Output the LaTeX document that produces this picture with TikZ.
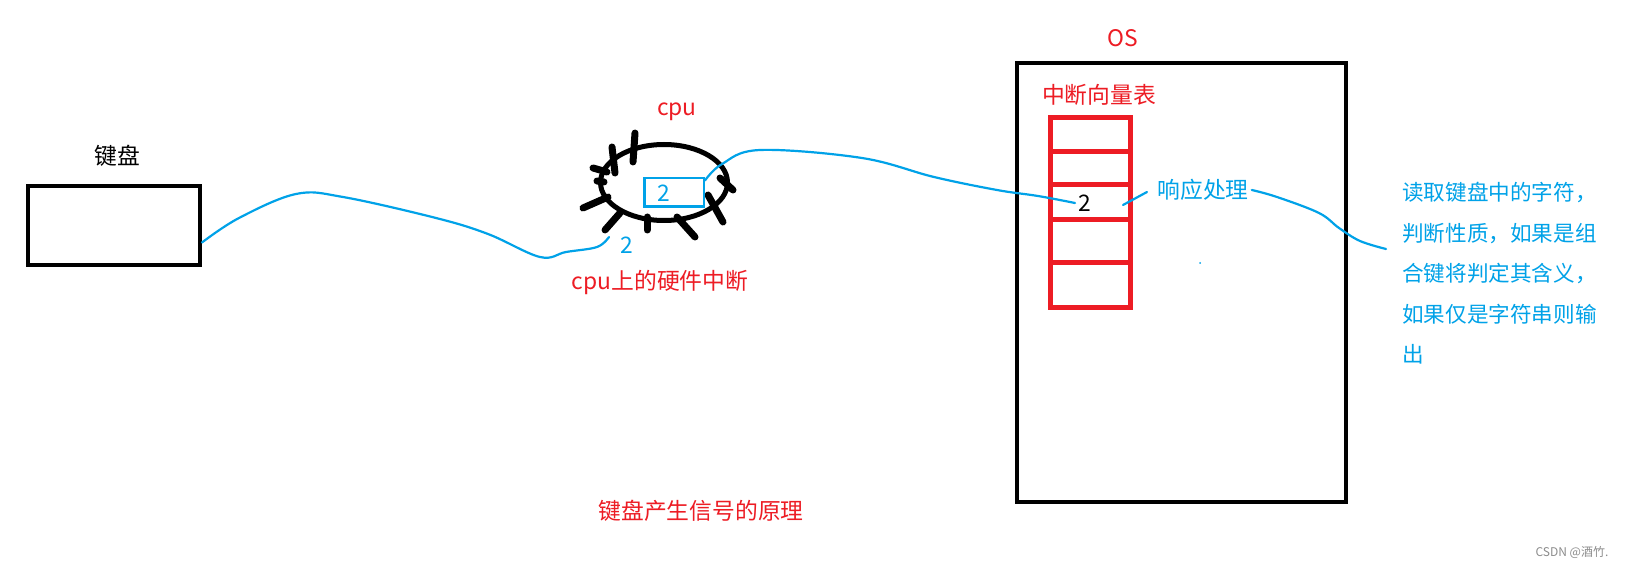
\documentclass[tikz,border=0pt]{standalone}
\usepackage{fontspec}
\setmainfont{Noto Sans CJK SC}
\usepackage{xcolor}
\usetikzlibrary{shapes.geometric}
\definecolor{paintred}{RGB}{237,28,36}
\definecolor{paintblue}{RGB}{0,162,232}
\tikzset{
  box/.style={draw=black, line width=4pt, inner sep=0pt},
  wire/.style={draw=paintblue, line width=2.2pt, line cap=round, line join=round},
  pin/.style={line width=7pt, line cap=round},
  vec/.style={draw=paintred, line width=5pt},
  lbl/.style={font=\fontsize{22.8}{26}\selectfont, inner sep=0pt}
}

\begin{document}
\begin{tikzpicture}[x=1pt, y=-1pt]
		\useasboundingbox[fill=white] (0,0) rectangle (1628,561);
		
		% keyboard
		\node[box, minimum width=172pt, minimum height=79pt] (kbd) at (114,225.5) {};
		\node[lbl] (kbdname) at (117,156) {键盘};
		
		% cpu
		\node[draw=black, line width=5pt, ellipse, minimum width=127pt, minimum height=76pt, inner sep=0pt] (cpu) at (664,182.5) {};
		\node[lbl, text=paintred] (cpuname) at (677,112) {cpu};
		\foreach \xa/\ya/\xb/\yb in {635/133/633/162, 612/147/615/173, 593/168/607/172,
		                   597/181/604/182, 583/208/608/197, 605/230/620/213,
		                   647/217/647/230, 677/217/695/237, 708/195/723/222,
		                   720/178/733/190}
			\draw[pin] (\xa,\ya) -- (\xb,\yb);
		\node[draw=paintblue, line width=2.5pt, minimum width=59.5pt, minimum height=28.5pt, inner sep=0pt] (irq) at (674,192.5) {};
		\node[lbl, text=paintblue] (irqnum) at (664,193) {2};
		\node[lbl, text=paintblue] (pinnum) at (627,245) {2};
		\node[lbl, text=paintred] (cpuirq) at (660,282) {cpu上的硬件中断};
		
		% os
		\node[box, minimum width=329pt, minimum height=439pt] (os) at (1181.5,282.5) {};
		\node[lbl, text=paintred] (osname) at (1123,38) {OS};
		\node[lbl, text=paintred] (vecname) at (1099,95) {中断向量表};
		\foreach \t/\b in {118/152, 152/185, 185/220, 220/263, 263/308}
			\draw[vec] (1050,\t) rectangle (1130,\b);
		\node[lbl] (vecnum) at (1085,203) {2};
		\node[lbl, text=paintblue] (handler) at (1203,190) {响应处理};
		\fill[paintblue] (1200,263) circle (1pt);
		
		% output text
		\node[lbl, text=paintblue, font=\fontsize{21.6}{40.5}\selectfont, anchor=north west, align=left] (result) at (1402,182)
			{读取键盘中的字符，\\判断性质，如果是组\\合键将判定其含义，\\如果仅是字符串则输\\出};
		
		\node[lbl, text=paintred] (title) at (701,511) {键盘产生信号的原理};
		\node[inner sep=0pt, text=black!45, font=\fontsize{12}{14}\selectfont] (mark) at (1572,552) {CSDN @酒竹.};
		
		% wires
		\coordinate (kbdout) at ([yshift=-17pt]kbd.east);
		\coordinate (cpuin) at (609,237);
		\draw[wire] plot[smooth, tension=0.6] coordinates {(kbdout) (239,218) (296,194) (343,197) (436,218) (488,234) (540,257) (566,252) (597,247) (cpuin)};
		\coordinate (irqout) at ([yshift=12pt]irq.east);
		\coordinate (vecin) at (1075,203);
		\draw[wire] plot[smooth, tension=0.6] coordinates {(irqout) (722,164) (760,150) (862,158) (934,177) (997,190) (1038,196) (vecin)};
		\draw[wire] (1123,205) -- (1147,192);
		\coordinate (handout) at ([xshift=3pt]handler.east);
		\coordinate (resin) at (1386,249);
		\draw[wire] plot[smooth, tension=0.6] coordinates {(handout) (1277,197) (1319,213) (1339,228) (1360,241) (resin)};
	\end{tikzpicture}
\end{document}
